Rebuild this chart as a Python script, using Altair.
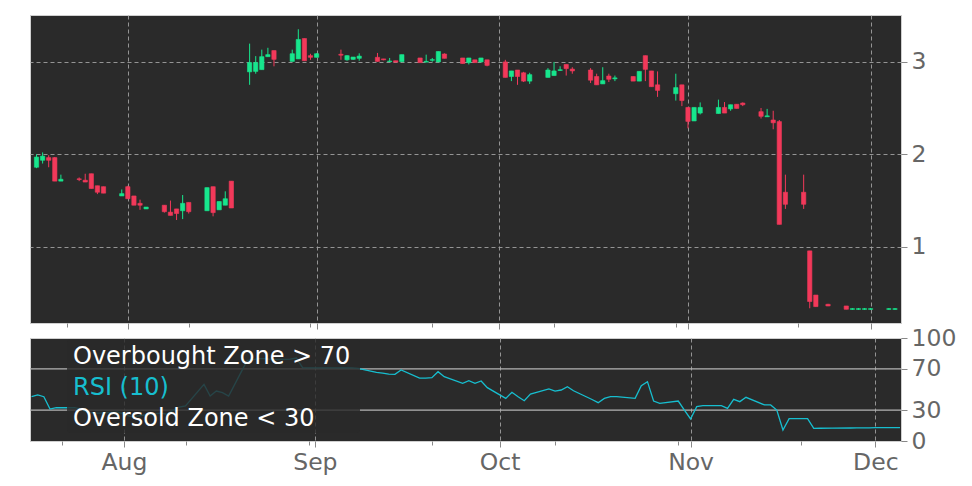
import altair as alt
import pandas as pd

# ---------------- data ----------------
dates = [
    "2023-07-17", "2023-07-18", "2023-07-19", "2023-07-20", "2023-07-21",
    "2023-07-24", "2023-07-25", "2023-07-26", "2023-07-27", "2023-07-28",
    "2023-07-31", "2023-08-01", "2023-08-02", "2023-08-03", "2023-08-04",
    "2023-08-07", "2023-08-08", "2023-08-09", "2023-08-10", "2023-08-11",
    "2023-08-14", "2023-08-15", "2023-08-16", "2023-08-17", "2023-08-18",
    "2023-08-21", "2023-08-22", "2023-08-23", "2023-08-24", "2023-08-25",
    "2023-08-28", "2023-08-29", "2023-08-30", "2023-08-31", "2023-09-01",
    "2023-09-05", "2023-09-06", "2023-09-07", "2023-09-08",
    "2023-09-11", "2023-09-12", "2023-09-13", "2023-09-14", "2023-09-15",
    "2023-09-18", "2023-09-19", "2023-09-20", "2023-09-21", "2023-09-22",
    "2023-09-25", "2023-09-26", "2023-09-27", "2023-09-28", "2023-09-29",
    "2023-10-02", "2023-10-03", "2023-10-04", "2023-10-05", "2023-10-06",
    "2023-10-09", "2023-10-10", "2023-10-11", "2023-10-12", "2023-10-13",
    "2023-10-16", "2023-10-17", "2023-10-18", "2023-10-19", "2023-10-20",
    "2023-10-23", "2023-10-24", "2023-10-25", "2023-10-26", "2023-10-27",
    "2023-10-30", "2023-10-31", "2023-11-01", "2023-11-02", "2023-11-03",
    "2023-11-06", "2023-11-07", "2023-11-08", "2023-11-09", "2023-11-10",
    "2023-11-13", "2023-11-14", "2023-11-15", "2023-11-16", "2023-11-17",
    "2023-11-20", "2023-11-21", "2023-11-22", "2023-11-24",
    "2023-11-27", "2023-11-28", "2023-11-29", "2023-11-30", "2023-12-01",
    "2023-12-04", "2023-12-05",
]
opens = [
    1.86, 1.935, 1.964, 1.964, 1.71,
    1.735, 1.72, 1.79, 1.66, 1.65,
    1.55, 1.65, 1.55, 1.47, 1.41,
    1.45, 1.375, 1.41, 1.39, 1.48,
    1.39, 1.65, 1.40, 1.45, 1.71,
    2.89, 2.895, 2.914, 3.054, 3.12,
    3.003, 3.03, 3.25, 3.065, 3.047,
    3.08, 3.02, 3.025, 3.036,
    3.047, 3.03, 3.0, 3.01, 3.0,
    3.04, 2.995, 3.015, 2.997, 3.083,
    3.04, 2.99, 3.02, 2.997, 3.02,
    2.997, 2.84, 2.91, 2.88, 2.79,
    2.83, 2.85, 2.905, 2.97, 2.92,
    2.91, 2.84, 2.76, 2.845, 2.815,
    2.84, 2.79, 3.065, 2.90, 2.75,
    2.654, 2.75, 2.506, 2.36, 2.445,
    2.44, 2.506, 2.49, 2.54, 2.553,
    2.46, 2.405, 2.37, 2.353, 1.59,
    1.59, 0.957, 0.48, 0.38,
    0.362, 0.325, 0.325, 0.325, 0.325,
    0.325, 0.325,
]
highs = [
    2.00, 2.02, 1.99, 1.97, 1.78,
    1.75, 1.79, 1.79, 1.66, 1.65,
    1.62, 1.66, 1.55, 1.51, 1.43,
    1.45, 1.50, 1.41, 1.56, 1.48,
    1.64, 1.65, 1.49, 1.60, 1.71,
    3.195, 3.06, 3.13, 3.15, 3.12,
    3.13, 3.35, 3.25, 3.085, 3.09,
    3.13, 3.07, 3.05, 3.09,
    3.094, 3.03, 3.04, 3.01, 3.076,
    3.04, 3.076, 3.04, 3.11, 3.09,
    3.04, 3.04, 3.02, 3.04, 3.02,
    3.02, 2.90, 2.91, 2.89, 2.88,
    2.93, 2.997, 2.95, 2.97, 2.94,
    2.93, 2.87, 2.94, 2.87, 2.85,
    2.84, 2.895, 3.065, 2.90, 2.895,
    2.87, 2.75, 2.506, 2.506, 2.56,
    2.59, 2.564, 2.535, 2.54, 2.56,
    2.50, 2.49, 2.47, 2.37, 1.78,
    1.78, 0.957, 0.48, 0.385,
    0.362, 0.34, 0.34, 0.34, 0.34,
    0.34, 0.34,
]
lows = [
    1.85, 1.90, 1.86, 1.71, 1.71,
    1.71, 1.70, 1.63, 1.57, 1.58,
    1.55, 1.52, 1.45, 1.40, 1.41,
    1.37, 1.34, 1.29, 1.30, 1.36,
    1.39, 1.33, 1.40, 1.45, 1.42,
    2.75, 2.87, 2.914, 3.054, 2.95,
    3.003, 3.03, 3.01, 3.02, 3.047,
    3.02, 3.01, 3.02, 3.01,
    3.0, 3.015, 3.0, 2.995, 3.0,
    2.99, 2.995, 3.0, 2.997, 3.036,
    2.98, 2.97, 2.99, 2.997, 2.95,
    2.83, 2.79, 2.75, 2.78, 2.76,
    2.83, 2.85, 2.90, 2.85, 2.87,
    2.77, 2.75, 2.76, 2.78, 2.79,
    2.79, 2.79, 2.79, 2.73, 2.62,
    2.58, 2.52, 2.28, 2.36, 2.43,
    2.44, 2.445, 2.47, 2.495, 2.52,
    2.386, 2.405, 2.27, 1.243, 1.41,
    1.41, 0.337, 0.355, 0.36,
    0.326, 0.32, 0.32, 0.32, 0.32,
    0.32, 0.32,
]
closes = [
    1.97, 1.98, 1.935, 1.71, 1.73,
    1.727, 1.70, 1.63, 1.59, 1.58,
    1.575, 1.52, 1.45, 1.45, 1.43,
    1.38, 1.34, 1.36, 1.47, 1.38,
    1.64, 1.37, 1.49, 1.52, 1.42,
    2.99, 2.99, 3.054, 3.076, 3.025,
    3.086, 3.24, 3.01, 3.047, 3.086,
    3.07, 3.065, 3.05, 3.06,
    3.003, 3.02, 3.007, 2.995, 3.076,
    2.99, 3.003, 3.022, 3.11, 3.036,
    2.98, 3.04, 2.99, 3.04, 2.96,
    2.83, 2.90, 2.84, 2.79, 2.86,
    2.91, 2.90, 2.913, 2.925, 2.90,
    2.80, 2.75, 2.795, 2.81, 2.825,
    2.79, 2.895, 2.917, 2.73, 2.69,
    2.72, 2.58, 2.355, 2.506, 2.506,
    2.506, 2.445, 2.535, 2.495, 2.535,
    2.41, 2.415, 2.34, 1.243, 1.46,
    1.46, 0.41, 0.355, 0.362,
    0.326, 0.333, 0.333, 0.333, 0.333,
    0.333, 0.333,
]
rsi_values = [
    43, 44.7, 43, 31, 32.3,
    32.3, 31, 28, 27, 27,
    28, 26, 24, 24, 25,
    27, 26, 30, 33, 34,
    55, 43.7, 48.5, 47, 43.7,
    78, 79, 80, 80, 79,
    79.5, 80.5, 71.2, 71, 71,
    71, 71, 71, 70.5,
    66.7, 66, 65, 64.7, 69,
    61, 61, 61.5, 67.3, 62.4,
    56, 58.5, 56, 58.3, 51.8,
    41.4, 47.3, 43, 39.1, 45.6,
    50.5, 48.5, 49.5, 52.7, 48.8,
    40.3, 37.2, 41.4, 43, 43,
    41.4, 53.7, 57.6, 38.8, 36.6,
    38.8, 30, 21.4, 33.3, 34.3,
    34.3, 31.7, 40.5, 38.2, 42.4,
    35, 35, 30, 10.7, 21.7,
    21.7, 12.3, 12.4, 12.5,
    12.6, 12.7, 12.8, 12.8, 12.9,
    12.9, 12.9,
]
zone_levels = [70, 30]
price_ticks = [1, 2, 3]
rsi_ticks = [0, 30, 70, 100]
legend_labels = ["Overbought Zone > 70", "RSI (10)", "Oversold Zone < 30"]

# ---------------- styling ----------------
BG = "#2a2a2a"
GREEN = "#17e68d"
RED = "#f2395a"
CYAN = "#17becf"
GRID = "#a0a0a0"
LABEL = "#666666"
TICK = "#888888"
FONT = "DejaVu Sans"

df = pd.DataFrame({"date": dates, "open": opens, "high": highs,
                   "low": lows, "close": closes})
df["dir"] = ["up" if c >= o else "down" for o, c in zip(opens, closes)]
rsi_df = pd.DataFrame({"date": dates, "rsi": rsi_values})
zone_df = pd.DataFrame({"level": zone_levels})


def dt(s, h=0):
    y, m, d = (int(v) for v in s.split("-"))
    return alt.DateTime(year=y, month=m, date=d, hours=h, utc=True)


month_starts = ["2023-08-01", "2023-09-01", "2023-10-01", "2023-11-01", "2023-12-01"]
minor_ticks = ["2023-07-22", "2023-08-11", "2023-08-31", "2023-09-20",
               "2023-10-10", "2023-10-30", "2023-11-19"]
tick_values = [dt(s) for s in sorted(month_starts + minor_ticks)]

x_scale = alt.Scale(type="utc", domain=[dt("2023-07-16", 18), dt("2023-12-05", 4)])
is_major = "utcdate(datum.value) == 1"


def x_axis(show_labels):
    return alt.Axis(
        values=tick_values, title=None, domain=False,
        grid=True, gridColor=GRID, gridDash=[4, 3], gridWidth=0.9,
        gridOpacity={"condition": {"test": is_major, "value": 1}, "value": 0},
        ticks=True, tickColor=TICK, tickWidth=1,
        tickSize={"condition": {"test": is_major, "value": 6}, "value": 4},
        labels=show_labels,
        labelExpr=f"{is_major} ? utcFormat(datum.value, '%b') : ''",
        labelFontSize=23.5, labelColor=LABEL, labelFont=FONT,
        labelOverlap=False, labelFlush=False, labelPadding=3,
    )


price_scale = alt.Scale(domain=[0.178, 3.504], nice=False, zero=False)
price_axis = alt.Axis(
    orient="right", values=price_ticks, title=None, domain=False,
    grid=True, gridColor=GRID, gridDash=[4, 3], gridWidth=0.9,
    tickColor=TICK, tickSize=6, labelFontSize=23.5, labelColor=LABEL,
    labelFont=FONT, labelPadding=4,
)
rsi_scale = alt.Scale(domain=[0, 100], nice=False)
rsi_axis = alt.Axis(
    orient="right", values=rsi_ticks, title=None, domain=False, grid=False,
    tickColor=TICK, tickSize=6, labelFontSize=23.5, labelColor=LABEL,
    labelFont=FONT, labelPadding=4,
)

col_scale = alt.Scale(domain=["up", "down"], range=[GREEN, RED])

# ---------------- price panel ----------------
base = alt.Chart(df).encode(x=alt.X("date:T", scale=x_scale, axis=x_axis(False)))
wicks = base.mark_rule(strokeWidth=1).encode(
    y=alt.Y("low:Q", scale=price_scale, axis=price_axis),
    y2="high:Q",
    color=alt.Color("dir:N", scale=col_scale, legend=None),
)
bodies = base.mark_bar(size=4.3, strokeWidth=0.6).encode(
    y=alt.Y("open:Q", scale=price_scale, axis=price_axis),
    y2="close:Q",
    color=alt.Color("dir:N", scale=col_scale, legend=None),
    stroke=alt.Stroke("dir:N", scale=col_scale, legend=None),
)
price = alt.layer(wicks, bodies).properties(width=871, height=308)

# ---------------- RSI panel ----------------
zones = alt.Chart(zone_df).mark_rule(color="#b4b4b4", strokeWidth=1.4).encode(
    y=alt.Y("level:Q", scale=rsi_scale, axis=rsi_axis)
)
rsi_line = alt.Chart(rsi_df).mark_line(color=CYAN, strokeWidth=1.3).encode(
    x=alt.X("date:T", scale=x_scale, axis=x_axis(True)),
    y=alt.Y("rsi:Q", scale=rsi_scale, axis=rsi_axis),
)
legend_box = alt.Chart(pd.DataFrame({"k": [0]})).mark_rect(
    fill=BG, opacity=0.82, cornerRadius=3
).encode(x=alt.value(37), x2=alt.value(330), y=alt.value(1), y2=alt.value(95))

legend_colors = ["white", CYAN, "white"]
legend_y = [26, 57, 88]
legend_texts = [
    alt.Chart(pd.DataFrame({"label": [lab]})).mark_text(
        align="left", baseline="alphabetic", font=FONT, fontSize=24, color=col
    ).encode(text="label:N", x=alt.value(43), y=alt.value(yy))
    for lab, col, yy in zip(legend_labels, legend_colors, legend_y)
]

rsi_panel = alt.layer(zones, rsi_line, legend_box, *legend_texts).properties(
    width=871, height=103
)

chart = (
    alt.vconcat(price, rsi_panel, spacing=15, bounds="flush")
    .properties(padding={"left": 20, "top": 6, "right": 5, "bottom": 5})
    .configure(background="white", font=FONT)
    .configure_view(fill=BG, stroke="#cfcfcf", strokeWidth=1)
)

chart.save("out.html", embed_options={"renderer": "svg", "actions": False})
